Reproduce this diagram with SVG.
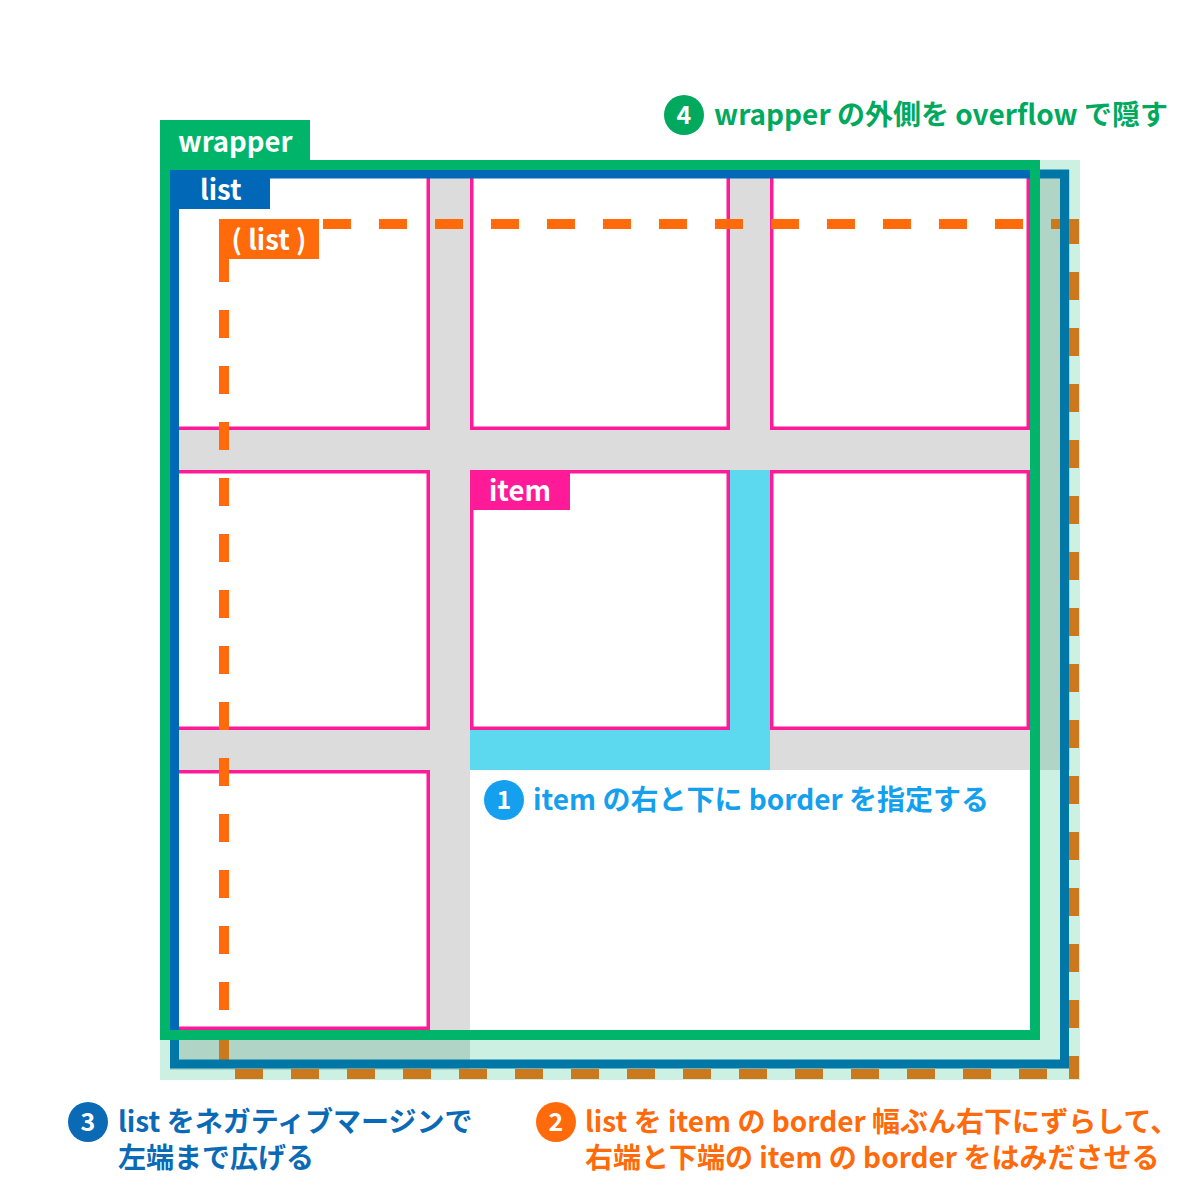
<svg xmlns="http://www.w3.org/2000/svg" width="1200" height="1200" viewBox="0 0 1200 1200">
<style>
text{font-family:"Noto Sans CJK JP","Noto Sans",sans-serif;font-weight:bold}
.gap{fill:#dcdcdc}
.box{fill:#fff;stroke:#ff1a98;stroke-width:3.5}
.dash{fill:none;stroke:#ff6a0a;stroke-width:10;stroke-dasharray:28 28}
.lbl{fill:#fff;font-size:27.5px}
.ann{font-size:28px}
.num{fill:#fff;font-size:25px;text-anchor:middle}
</style>
<rect width="1200" height="1200" fill="#fff"/>
<g id="items">
  <g id="item1"><rect class="gap" x="170" y="170" width="300" height="300"/><rect class="box" x="171.75" y="171.75" width="256.5" height="256.5"/></g>
  <g id="item2"><rect class="gap" x="470" y="170" width="300" height="300"/><rect class="box" x="471.75" y="171.75" width="256.5" height="256.5"/></g>
  <g id="item3"><rect class="gap" x="770" y="170" width="300" height="300"/><rect class="box" x="771.75" y="171.75" width="256.5" height="256.5"/></g>
  <g id="item4"><rect class="gap" x="170" y="470" width="300" height="300"/><rect class="box" x="171.75" y="471.75" width="256.5" height="256.5"/></g>
  <g id="item5"><rect x="470" y="470" width="300" height="300" fill="#5cd9ef"/><rect class="box" x="471.75" y="471.75" width="256.5" height="256.5"/></g>
  <g id="item6"><rect class="gap" x="770" y="470" width="300" height="300"/><rect class="box" x="771.75" y="471.75" width="256.5" height="256.5"/></g>
  <g id="item7"><rect class="gap" x="170" y="770" width="300" height="300"/><rect class="box" x="171.75" y="771.75" width="256.5" height="256.5"/></g>
</g>
<g id="connectors">
  <line class="dash" x1="224" y1="224" x2="1079" y2="224" stroke-dashoffset="13"/>
  <line class="dash" x1="1074" y1="219" x2="1074" y2="1079" stroke-dashoffset="3"/>
  <line class="dash" x1="219" y1="1074" x2="1079" y2="1074" stroke-dashoffset="40"/>
  <line class="dash" x1="224" y1="224" x2="224" y2="1066" stroke-dashoffset="26"/>
</g>
<g id="list">
  <rect x="174.5" y="174" width="890" height="890" fill="none" stroke="#0068b7" stroke-width="9"/>
  <rect x="170" y="170" width="100" height="39" fill="#0068b7"/>
  <text class="lbl" x="200" y="200">list</text>
</g>
<g id="list-original">
  <rect x="219" y="219" width="100" height="40" fill="#ff6a0a"/>
  <text class="lbl" x="269" y="250" text-anchor="middle">( list )</text>
</g>
<g id="wrapper">
  <rect x="165" y="165" width="870" height="870" fill="none" stroke="#00b46a" stroke-width="10"/>
  <rect x="160" y="120" width="150" height="41" fill="#00b46a"/>
  <text class="lbl" x="178" y="152">wrapper</text>
</g>
<g id="item-label">
  <rect x="470" y="470" width="100" height="40" fill="#ff1a98"/>
  <text class="lbl" x="489" y="501">item</text>
</g>
<path id="hidden-area" d="M1040 160 H1080 V1080 H160 V1040 H1040 Z" fill="#00b46a" fill-opacity="0.2"/>
<g id="note1">
  <circle cx="504" cy="800" r="20" fill="#14a0ee"/>
  <text class="num" x="504" y="809">1</text>
  <text class="ann" x="533" y="810" fill="#14a0ee">item の右と下に border を指定する</text>
</g>
<g id="note2">
  <circle cx="556" cy="1122" r="20" fill="#ff6a0a"/>
  <text class="num" x="556" y="1131">2</text>
  <text class="ann" fill="#ff6a0a"><tspan x="585" y="1132">list を item の border 幅ぶん右下にずらして、</tspan><tspan x="585" y="1168">右端と下端の item の border をはみださせる</tspan></text>
</g>
<g id="note3">
  <circle cx="88" cy="1122" r="20" fill="#0a6ab6"/>
  <text class="num" x="88" y="1131">3</text>
  <text class="ann" fill="#0a6ab6"><tspan x="118" y="1132">list をネガティブマージンで</tspan><tspan x="118" y="1168">左端まで広げる</tspan></text>
</g>
<g id="note4">
  <circle cx="684" cy="115" r="20" fill="#00a95e"/>
  <text class="num" x="684" y="124">4</text>
  <text class="ann" x="714" y="125" fill="#00a95e">wrapper の外側を overflow で隠す</text>
</g>
</svg>
